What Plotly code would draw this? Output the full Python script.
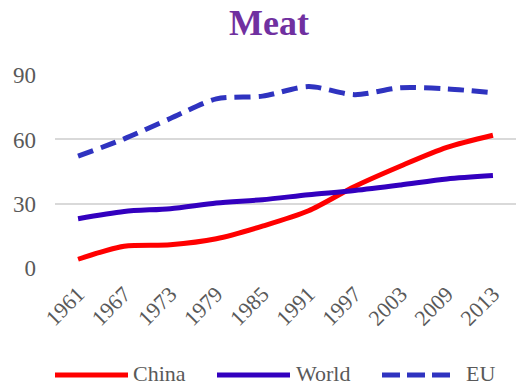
import plotly.graph_objects as go

years = ["1961", "1967", "1973", "1979", "1985", "1991", "1997", "2003", "2009", "2013"]
china = [3.9, 10.0, 10.7, 13.5, 19.4, 26.6, 38.0, 47.6, 56.3, 62.0]
world = [22.9, 26.3, 27.6, 30.2, 31.8, 34.1, 36.1, 38.7, 41.5, 43.1]
eu = [52.2, 60.3, 69.8, 79.0, 80.3, 84.8, 81.0, 84.2, 83.7, 81.9]
y_ticks = [0, 30, 60, 90]

series_names = ["China", "World", "EU"]
series_vals = [china, world, eu]
colors = ["#FF0000", "#3300BF", "#2F33C0"]
dashes = ["solid", "solid", "16px,8px"]
legend_dashes = ["solid", "solid", "18px,7px"]

FONT = "Liberation Serif, Times New Roman, serif"
W, H = 516, 386
L, R, T, B = 55, 0, 75, 118

fig = go.Figure()
for name, vals, c, d in zip(series_names, series_vals, colors, dashes):
    fig.add_trace(go.Scatter(
        x=years, y=vals, name=name, mode="lines",
        line=dict(color=c, width=5, dash=d, shape="spline", smoothing=0.8),
        showlegend=False,
    ))

# custom legend (long line symbols like the reference)
plot_w = W - L - R
plot_h = H - T - B
def px2x(p):
    return (p - L) / plot_w
def py2y(p):
    return (H - B - p) / plot_h

leg_line_y = py2y(375)
leg_text_y = py2y(373)
leg_items = [(55, 128, 132), (217, 290, 295), (382, 450, 465)]
for (x0, x1, tx), name, c, d in zip(leg_items, series_names, colors, legend_dashes):
    fig.add_shape(type="line", xref="paper", yref="paper",
                  x0=px2x(x0), x1=px2x(x1), y0=leg_line_y, y1=leg_line_y,
                  line=dict(color=c, width=5, dash=d))
    fig.add_annotation(xref="paper", yref="paper", x=px2x(tx), y=leg_text_y,
                       text=name, showarrow=False, xanchor="left", yanchor="middle",
                       borderpad=0,
                       font=dict(family=FONT, size=22, color="#595959"))

fig.update_layout(
    width=W, height=H,
    margin=dict(l=L, r=R, t=T, b=B),
    paper_bgcolor="white", plot_bgcolor="white",
    title=dict(text="<b>Meat</b>", x=269 / W, xanchor="center", xref="container",
               y=1 - 22 / H, yanchor="middle", yref="container",
               font=dict(family=FONT, size=36, color="#7030A0")),
    font=dict(family=FONT, size=22, color="#595959"),
)
fig.update_xaxes(
    type="category", range=[-0.5, len(years) - 0.5], tickangle=-45,
    showgrid=False, showline=False,
    ticks="", ticklabelstandoff=8, tickfont=dict(size=22, color="#595959"),
)
fig.update_yaxes(
    range=[-0.2, 90.2], tickvals=y_ticks, showgrid=True, gridcolor="#D9D9D9",
    gridwidth=1.5, zeroline=False, showline=False, ticks="",
    ticklabelstandoff=18, tickfont=dict(size=23, color="#595959"),
)

fig.write_html("out.html")
